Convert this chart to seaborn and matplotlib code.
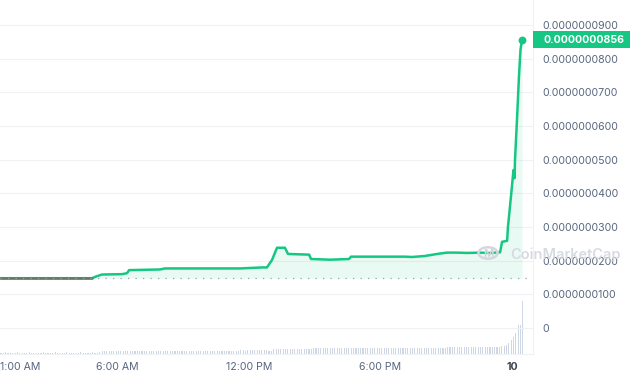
import numpy as np
import matplotlib.pyplot as plt
import matplotlib.transforms as mtransforms
from matplotlib.patches import Rectangle, Circle
from matplotlib.ticker import FuncFormatter
import seaborn as sns

# price (in units of 1e-8) against hours since 00:00 on the 9th
hours = [0.67, 4.86, 5.04, 5.32, 6.23, 6.46, 6.55, 7.96, 8.19, 11.60,
         12.61, 12.83, 13.06, 13.29, 13.65, 13.79, 14.75, 14.84, 15.70, 16.57,
         16.66, 19.12, 19.44, 20.03, 20.58, 21.03, 21.49, 21.95, 22.54, 22.99,
         23.45, 23.54, 23.77, 23.81, 23.90, 23.99, 24.06, 24.11, 24.13, 24.22,
         24.31, 24.38, 24.45]
price_e8 = [1.48, 1.48, 1.53, 1.59, 1.60, 1.63, 1.72, 1.74, 1.77, 1.77,
            1.80, 1.80, 2.02, 2.385, 2.385, 2.20, 2.18, 2.05, 2.03, 2.05,
            2.12, 2.12, 2.11, 2.14, 2.20, 2.24, 2.24, 2.23, 2.24, 2.23,
            2.25, 2.56, 2.59, 3.01, 3.60, 4.20, 4.69, 4.45, 4.99, 6.18,
            7.46, 8.26, 8.56]
open_e8 = 1.48
last_label = "0.0000000856"

# volume bars (relative units), one per interval across the day
volume = [
    1.5, 1.4, 1.6, 1.5, 1.5, 1.4, 1.5, 1.6, 1.5, 1.5, 1.4, 1.5, 1.6, 1.5, 1.5,
    1.4, 1.5, 1.5, 1.6, 1.5, 1.4, 1.5, 1.5, 1.6, 1.5, 1.5, 1.4, 1.5, 1.6, 1.5,
    1.5, 1.4, 1.5, 1.5, 1.6, 1.5, 1.4, 1.5, 1.5, 1.6, 1.5, 1.5, 1.6,
    2.7, 2.6, 2.8, 2.7, 2.7, 2.6, 2.7, 2.8, 2.7, 2.7, 2.6, 2.7, 2.8, 2.7, 2.7,
    2.6, 2.7, 2.7, 2.8, 2.7, 2.6, 2.7, 2.7, 2.8, 2.7, 2.7, 2.6, 2.7, 2.8, 2.7,
    2.7, 2.6, 2.7, 2.7, 2.8, 2.7, 2.6, 2.7, 2.7, 2.8, 2.7, 2.7, 2.6, 2.7, 2.8,
    2.7, 2.7, 2.6, 2.7, 2.7, 2.8, 2.7, 2.6, 2.7, 2.7, 2.8, 2.7, 2.7, 2.6,
    3.6, 3.7, 3.5, 3.7, 3.6, 3.8, 3.7, 3.6, 3.7, 3.8, 3.6, 3.7, 3.4, 3.3,
    5.0, 4.9, 5.1, 5.0, 5.0, 4.9, 5.1, 5.0, 5.0, 4.9, 5.1, 5.0, 5.0, 4.9, 5.1,
    5.0, 5.0,
    6.3, 6.2, 6.4, 6.3, 6.3, 6.2, 6.4, 6.3, 6.3, 6.2, 6.4, 6.3, 6.3, 6.2, 6.4,
    6.3, 6.3, 6.2, 6.4, 6.3, 6.3, 6.2, 6.4, 6.3, 6.3, 6.2, 6.4, 6.3, 6.3, 6.2,
    6.4, 6.3, 6.3, 6.2, 6.4, 6.3, 6.3, 6.2, 6.4, 6.3, 6.3, 6.2, 6.4, 6.3, 6.3,
    6.2, 6.4, 6.3, 6.3, 6.2, 6.4, 6.3, 6.3, 6.2, 6.4, 6.3, 6.3,
    7.3, 7.2, 7.4, 7.3, 7.3, 7.2, 7.4, 7.3, 7.3, 7.2, 7.4, 7.3, 7.3, 7.2, 7.4,
    7.3, 7.3, 7.2, 7.4, 7.3, 7.3, 7.2, 7.4,
    7.6, 8.2, 9.5, 11, 14, 17, 21, 29, 29, 53,
]
vol_start, vol_end = 0.715, 24.49

xtick_pos = [1.58, 6, 12, 18, 24]
xtick_labels = ["1:00 AM", "6:00 AM", "12:00 PM", "6:00 PM", "10"]
ytick_vals = [i * 1e-8 for i in range(10)]

green = "#16c784"
grey_txt = "#58667e"
grid_c = "#eff2f5"

sns.set_theme(style="white")
plt.rcParams["font.family"] = ["Inter", "DejaVu Sans"]

price = np.array(price_e8) * 1e-8
hrs = np.array(hours)
base = open_e8 * 1e-8

fig = plt.figure(figsize=(6.3, 3.8), dpi=100)
ax = fig.add_axes([0, 26 / 380, 533 / 630, 354 / 380])
ax2 = ax.twinx()

# volume
vol_t = np.linspace(vol_start, vol_end, len(volume))
ax2.bar(vol_t, volume, width=0.05, color="#cfd6e4", linewidth=0)
ax2.set_ylim(0, 354)
ax2.set_yticks([])
for s in ax2.spines.values():
    s.set_visible(False)

ax.set_zorder(ax2.get_zorder() + 1)
ax.patch.set_visible(False)

# price
ax.fill_between(hrs, price, base, where=price >= base, interpolate=True,
                color=green, alpha=0.09, linewidth=0)
sns.lineplot(x=hrs, y=price, ax=ax, color=green, linewidth=1.8, zorder=4)
flat = price <= base
ax.plot(hrs[flat], price[flat], color="#5f7a62", linewidth=1.8, zorder=5)
ax.axhline(base, color="#98a1b3", linewidth=0.9, linestyle=(0, (1, 5)), zorder=6)
ax.scatter([hrs[-1]], [price[-1]], s=32, color=green, zorder=7, linewidths=0)

ax.set_xlim(0.67, 24.95)
ax.set_ylim(-0.77e-8, 9.74e-8)
ax.set_yticks(ytick_vals)
ax.yaxis.set_major_formatter(FuncFormatter(lambda v, p: "0" if abs(v) < 1e-12 else f"{v:.10f}"))
ax.yaxis.tick_right()
ax.grid(axis="y", color=grid_c, linewidth=0.8)
ax.grid(axis="x", visible=False)
ax.tick_params(axis="y", length=0, pad=7, labelsize=7.6, labelcolor=grey_txt)
ax.set_xticks(xtick_pos)
ax.set_xticklabels(xtick_labels)
ax.tick_params(axis="x", length=0, pad=6, labelsize=7.6, labelcolor=grey_txt)
ax.get_xticklabels()[-1].set_fontweight("bold")
ax.get_xticklabels()[-1].set_color("#3d4450")
ax.set_xlabel("")
ax.set_ylabel("")
for side in ["top", "left"]:
    ax.spines[side].set_visible(False)
for side in ["right", "bottom"]:
    ax.spines[side].set_color(grid_c)
    ax.spines[side].set_linewidth(0.8)

# current price tag
trans = mtransforms.blended_transform_factory(ax.transAxes, ax.transData)
ax.add_patch(Rectangle((1.0, price[-1] - 0.2525e-8), 0.19, 0.505e-8, transform=trans,
                       facecolor=green, edgecolor="none", clip_on=False, zorder=8))
ax.text(543 / 533, price[-1], last_label, transform=trans, color="white",
        fontsize=7.6, fontweight="bold", va="center", ha="left", zorder=9)

# watermark
fig.patches.append(Circle((488 / 630, 1 - 253 / 380), 9.5 / 630, transform=fig.transFigure,
                          fill=False, edgecolor="#d3d7de", linewidth=1.8, zorder=10))
fig.text(488 / 630, 1 - 254 / 380, "M", color="#d3d7de", fontsize=8, fontweight="bold",
         ha="center", va="center", zorder=10)
fig.text(510 / 630, 1 - 255 / 380, "CoinMarketCap", color="#d3d7de", fontsize=10.5,
         fontweight="semibold", ha="left", va="center", zorder=10, alpha=0.9)

fig.savefig("out.png", dpi=100)
